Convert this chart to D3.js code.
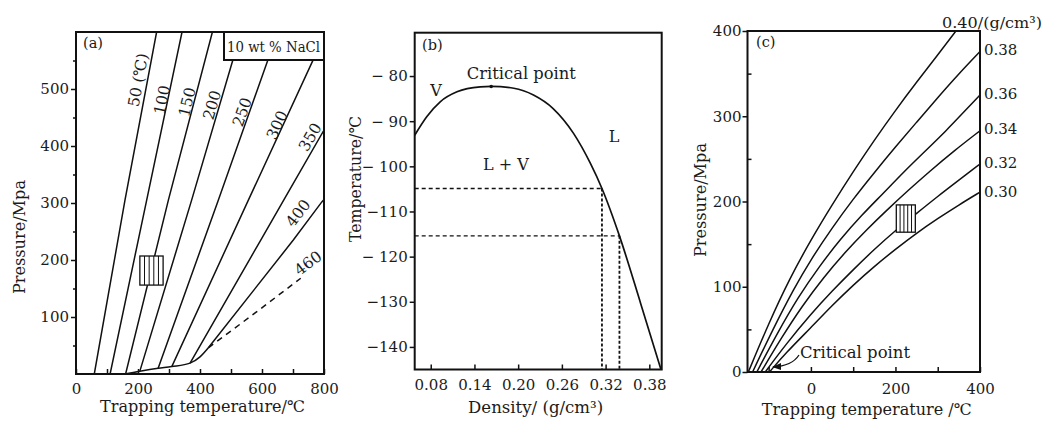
<!DOCTYPE html>
<html>
<head>
<meta charset="utf-8">
<script src="https://cdn.jsdelivr.net/npm/d3@7"></script>
<style>
body { margin: 0; background: #fff; }
svg text { font-family: "DejaVu Serif", "Liberation Serif", serif; fill: #1b1b1b; }
</style>
</head>
<body>
<svg id="chart" width="1046" height="421"></svg>
<script>
// ---- panel (a): isochores, 10 wt % NaCl ----
const aIsoLabels = ["50 (℃)", "100", "150", "200", "250", "300", "350", "400"];
const aIsochores = [
    [[59, 0], [158, 305], [260, 600]],
    [[110, 0], [228, 305], [342, 600]],
    [[160, 0], [298, 305], [440, 600]],
    [[206, 5], [373, 305], [506, 551], [533, 600]],
    [[265, 10], [459, 305], [619, 551], [651, 600]],
    [[309, 13], [556, 305], [765, 551], [806, 600]],
    [[368, 19], [596, 235], [670, 305], [800, 428]],
    [[427, 46], [701, 235], [793, 302], [800, 306]]
];
const aLiquidCurve = [[155, 0], [206, 5], [265, 10], [309, 13], [368, 19], [400, 30], [427, 46]];
const aDashed = [[427, 46], [580, 108], [725, 168]];
const aDashedLabel = "460";
const aHatchT = [206, 281];
const aHatchP = [156, 207];
const aXTicks = [0, 100, 200, 300, 400, 500, 600, 700, 800];
const aYTicks = [100, 200, 300, 400, 500];
const aYMinor = [50, 150, 250, 350, 450, 550];

// ---- panel (b): homogenisation curve ----
const bCurve = [
    [0.058, -93.1], [0.0745, -89], [0.093, -85.7], [0.116, -83.5], [0.148, -82.4],
    [0.163, -82.3], [0.194, -82.7], [0.221, -84.2], [0.248, -87.2], [0.276, -92.7],
    [0.299, -99.3], [0.315, -104.9], [0.339, -115.4], [0.368, -130.3], [0.396, -145]
];
const bCritical = [0.163, -82.3];
const bReadings = [[0.315, -104.9], [0.339, -115.4]];
const bXTicks = [0.08, 0.14, 0.20, 0.26, 0.32, 0.38];
const bYTicks = [-80, -90, -100, -110, -120, -130, -140];
const bYLabels = ["− 80", "− 90", "− 100", "−110", "− 120", "−130", "−140"];

// ---- panel (c): CO2 isochores ----
const cDensities = ["0.40/(g/cm³)", "0.38", "0.36", "0.34", "0.32", "0.30"];
const cIsochores = [
    [[-148, 0], [-100, 57], [-50, 110], [0, 155], [50, 196], [100, 235], [150, 272], [200, 307], [250, 340], [300, 372], [343, 400]],
    [[-138, 0], [-90, 50], [-40, 98], [0, 132], [50, 169], [100, 203], [150, 234], [200, 264], [250, 293], [300, 322], [350, 350], [400, 376]],
    [[-128, 0], [-80, 45], [-30, 88], [20, 124], [70, 156], [120, 184], [170, 209], [220, 235], [270, 259], [320, 283], [360, 304], [400, 325]],
    [[-118, 0], [-70, 40], [-20, 78], [30, 111], [80, 140], [130, 166], [180, 190], [230, 213], [280, 235], [340, 260], [400, 283]],
    [[-108, 0], [-60, 32], [0, 68], [50, 95], [100, 120], [150, 144], [200, 166], [250, 186], [300, 206], [350, 225], [400, 244]],
    [[-98, 0], [-60, 22], [0, 52], [50, 78], [100, 102], [150, 124], [200, 144], [250, 163], [300, 180], [350, 196], [400, 211]]
];
const cHatchT = [202, 247];
const cHatchP = [164, 196];
const cXTicks = [-100, 0, 100, 200, 300, 400];
const cYTicks = [0, 100, 200, 300, 400];
const cYMinor = [50, 150, 250, 350];

const svg = d3.select("#chart");

function frame(g, x, y) {
    g.append("rect")
        .attr("x", x.range()[0]).attr("y", y.range()[1])
        .attr("width", x.range()[1] - x.range()[0])
        .attr("height", y.range()[0] - y.range()[1])
        .attr("fill", "none").attr("stroke", "#111").attr("stroke-width", 2);
}

function styleAxis(sel, size) {
    sel.select(".domain").remove();
    sel.selectAll(".tick line").attr("stroke", "#111").attr("stroke-width", 1.5);
    sel.selectAll(".tick text")
        .attr("fill", "#1b1b1b")
        .style("font-family", '"DejaVu Serif", serif')
        .style("font-size", size + "px");
}

function hatch(g, x, y, tRange, pRange, n) {
    let x0 = x(tRange[0]), x1 = x(tRange[1]), y0 = y(pRange[1]), y1 = y(pRange[0]);
    g.append("rect").attr("x", x0).attr("y", y0).attr("width", x1 - x0).attr("height", y1 - y0)
        .attr("fill", "#fff").attr("stroke", "#111").attr("stroke-width", 1.3);
    for (let i = 1; i < n; i++) {
        let xx = x0 + (x1 - x0) * i / n;
        g.append("line").attr("x1", xx).attr("x2", xx).attr("y1", y0).attr("y2", y1)
            .attr("stroke", "#111").attr("stroke-width", 1);
    }
}

function title(g, txt, cx, cy, len, rotate) {
    let t = g.append("text")
        .attr("text-anchor", "middle")
        .attr("textLength", len).attr("lengthAdjust", "spacingAndGlyphs")
        .style("font-size", "16px")
        .text(txt);
    if (rotate) {
        t.attr("transform", `translate(${cx},${cy}) rotate(-90)`);
    } else {
        t.attr("x", cx).attr("y", cy);
    }
    return t;
}

// ================= panel (a) =================
const ax = d3.scaleLinear().domain([0, 800]).range([76, 324]);
const ay = d3.scaleLinear().domain([0, 600]).range([374, 32]);
const ga = svg.append("g");
ga.append("clipPath").attr("id", "clipA").append("rect")
    .attr("x", 76).attr("y", 32).attr("width", 248).attr("height", 342);

let aLine = d3.line().x(d => ax(d[0])).y(d => ay(d[1]));

let aPlot = ga.append("g").attr("clip-path", "url(#clipA)");
aPlot.selectAll(".iso").data(aIsochores).join("path")
    .attr("d", aLine).attr("fill", "none").attr("stroke", "#111").attr("stroke-width", 1.5);
aPlot.append("path").datum(aLiquidCurve)
    .attr("d", aLine.curve(d3.curveMonotoneX)).attr("fill", "none").attr("stroke", "#111").attr("stroke-width", 1.5);
aLine.curve(d3.curveLinear);
aPlot.append("path").datum(aDashed)
    .attr("d", aLine).attr("fill", "none").attr("stroke", "#111").attr("stroke-width", 1.5)
    .attr("stroke-dasharray", "6,5");

hatch(ga, ax, ay, aHatchT, aHatchP, 5);

// salinity box
ga.append("rect").attr("x", 224).attr("y", 32).attr("width", 100).attr("height", 28)
    .attr("fill", "#fff").attr("stroke", "#111").attr("stroke-width", 2);
ga.append("text").attr("x", 227).attr("y", 51.5)
    .attr("textLength", 93).attr("lengthAdjust", "spacingAndGlyphs")
    .style("font-size", "14px").text("10 wt % NaCl");

// line labels
const aLabelPos = [[138, 80], [162, 100], [187, 102], [212, 105], [242, 112], [277, 125], [310, 137], [298, 213], [308, 263]];
let aLabelLines = aIsochores.concat([aDashed]);
let aLabelText = aIsoLabels.concat([aDashedLabel]);
aLabelPos.forEach((p, i) => {
    let pts = aLabelLines[i];
    let p0 = pts[0], p1 = pts[pts.length - 1];
    let ang = Math.atan2(ay(p1[1]) - ay(p0[1]), ax(p1[0]) - ax(p0[0])) * 180 / Math.PI;
    ga.append("text")
        .attr("transform", `translate(${p[0]},${p[1]}) rotate(${ang})`)
        .attr("text-anchor", "middle").attr("dy", "0.35em")
        .style("font-size", "15.5px")
        .text(aLabelText[i]);
});

frame(ga, ax, ay);

ga.append("g").attr("transform", "translate(0,374)")
    .call(d3.axisBottom(ax).tickValues(aXTicks).tickSizeInner(-5).tickSizeOuter(0).tickPadding(9)
        .tickFormat(d => d % 200 === 0 ? d : ""))
    .call(s => styleAxis(s, 15));
ga.append("g").attr("transform", "translate(76,0)")
    .call(d3.axisLeft(ay).tickValues(aYTicks).tickSizeInner(5).tickSizeOuter(0).tickPadding(2))
    .call(s => styleAxis(s, 15));
ga.append("g").attr("transform", "translate(76,0)")
    .call(d3.axisLeft(ay).tickValues(aYMinor).tickSizeInner(3).tickSizeOuter(0).tickFormat(""))
    .call(s => styleAxis(s, 15));

ga.append("text").attr("x", 83).attr("y", 48).style("font-size", "14.5px").text("(a)");
title(ga, "Trapping temperature/℃", 202.5, 412, 205, false);
title(ga, "Pressure/Mpa", 25, 237, 114, true);

// ================= panel (b) =================
const bx = d3.scaleLinear().domain([0.058, 0.397]).range([414.7, 661.7]);
const by = d3.scaleLinear().domain([-145, -70.4]).range([369.5, 32.7]);
const gb = svg.append("g");

// dashed reading lines
bReadings.forEach(r => {
    gb.append("line")
        .attr("x1", bx.range()[0]).attr("x2", bx(r[0]))
        .attr("y1", by(r[1])).attr("y2", by(r[1]))
        .attr("stroke", "#111").attr("stroke-width", 1.4).attr("stroke-dasharray", "4,3");
    gb.append("line")
        .attr("x1", bx(r[0])).attr("x2", bx(r[0]))
        .attr("y1", by(r[1])).attr("y2", by.range()[0])
        .attr("stroke", "#111").attr("stroke-width", 1.8).attr("stroke-dasharray", "3,2");
});

gb.append("path").datum(bCurve)
    .attr("d", d3.line().x(d => bx(d[0])).y(d => by(d[1])).curve(d3.curveMonotoneX))
    .attr("fill", "none").attr("stroke", "#111").attr("stroke-width", 1.7);
gb.append("circle").attr("cx", bx(bCritical[0])).attr("cy", by(bCritical[1])).attr("r", 1.8).attr("fill", "#111");

frame(gb, bx, by);

gb.append("g").attr("transform", `translate(0,${by.range()[0]})`)
    .call(d3.axisBottom(bx).tickValues(bXTicks).tickSizeInner(-5).tickSizeOuter(0).tickPadding(10)
        .tickFormat(d3.format(".2f")))
    .call(s => styleAxis(s, 15));
gb.append("g").attr("transform", `translate(${bx.range()[0]},0)`)
    .call(d3.axisLeft(by).tickValues(bYTicks).tickSizeInner(5).tickSizeOuter(0).tickPadding(2)
        .tickFormat((d, i) => bYLabels[i]))
    .call(s => styleAxis(s, 15));

gb.append("text").attr("x", 422).attr("y", 50).style("font-size", "14.5px").text("(b)");
gb.append("text").attr("x", 521.3).attr("y", 79).attr("text-anchor", "middle")
    .attr("textLength", 109).attr("lengthAdjust", "spacingAndGlyphs")
    .style("font-size", "16.5px").text("Critical point");
gb.append("text").attr("x", 436).attr("y", 96).attr("text-anchor", "middle").style("font-size", "16px").text("V");
gb.append("text").attr("x", 506).attr("y", 169.5).attr("text-anchor", "middle").style("font-size", "16px").text("L + V");
gb.append("text").attr("x", 614).attr("y", 141.5).attr("text-anchor", "middle").style("font-size", "16px").text("L");
title(gb, "Density/ (g/cm³)", 535.6, 413, 135, false);
title(gb, "Temperature/℃", 361, 179, 126, true);

// ================= panel (c) =================
const cx = d3.scaleLinear().domain([-150, 400]).range([747.5, 980]);
const cy = d3.scaleLinear().domain([0, 400]).range([372, 31]);
const gc = svg.append("g");
gc.append("clipPath").attr("id", "clipC").append("rect")
    .attr("x", 747.5).attr("y", 31).attr("width", 232.5).attr("height", 341);

gc.append("g").attr("clip-path", "url(#clipC)")
    .selectAll(".iso").data(cIsochores).join("path")
    .attr("d", d3.line().x(d => cx(d[0])).y(d => cy(d[1])).curve(d3.curveBasis))
    .attr("fill", "none").attr("stroke", "#111").attr("stroke-width", 1.5);

hatch(gc, cx, cy, cHatchT, cHatchP, 5);

frame(gc, cx, cy);

gc.append("g").attr("transform", "translate(0,372)")
    .call(d3.axisBottom(cx).tickValues(cXTicks).tickSizeInner(-5).tickSizeOuter(0).tickPadding(11)
        .tickFormat(d => d % 200 === 0 ? d : ""))
    .call(s => styleAxis(s, 15));
gc.append("g").attr("transform", "translate(747.5,0)")
    .call(d3.axisLeft(cy).tickValues(cYTicks).tickSizeInner(5).tickSizeOuter(0).tickPadding(1))
    .call(s => styleAxis(s, 15));
gc.append("g").attr("transform", "translate(747.5,0)")
    .call(d3.axisLeft(cy).tickValues(cYMinor).tickSizeInner(-4).tickSizeOuter(0).tickFormat(""))
    .call(s => styleAxis(s, 15));

// density labels at the right end
const cLabelY = [27.5, 55, 99, 134, 168, 196.5];
cDensities.forEach((d, i) => {
    let t = gc.append("text").attr("x", i === 0 ? 942 : 984).attr("y", cLabelY[i])
        .style("font-size", "15px");
    if (i === 0) {
        t.attr("textLength", 100).attr("lengthAdjust", "spacingAndGlyphs");
    }
    t.text(d);
});

gc.append("text").attr("x", 756).attr("y", 47).style("font-size", "14.5px").text("(c)");
gc.append("text").attr("x", 800).attr("y", 358)
    .attr("textLength", 110).attr("lengthAdjust", "spacingAndGlyphs")
    .style("font-size", "16px").text("Critical point");

// arrow to the critical point
gc.append("defs").append("marker").attr("id", "arrowC")
    .attr("viewBox", "0 0 10 10").attr("refX", 9).attr("refY", 5)
    .attr("markerWidth", 7).attr("markerHeight", 7).attr("orient", "auto")
    .append("path").attr("d", "M0,1 L10,5 L0,9 Z").attr("fill", "#111");
gc.append("path").attr("d", "M799,355 Q792,366 773,367")
    .attr("fill", "none").attr("stroke", "#111").attr("stroke-width", 1.3)
    .attr("marker-end", "url(#arrowC)");

title(gc, "Trapping temperature /℃", 866.7, 415, 210, false);
title(gc, "Pressure/Mpa", 706, 200, 114, true);
</script>
</body>
</html>
